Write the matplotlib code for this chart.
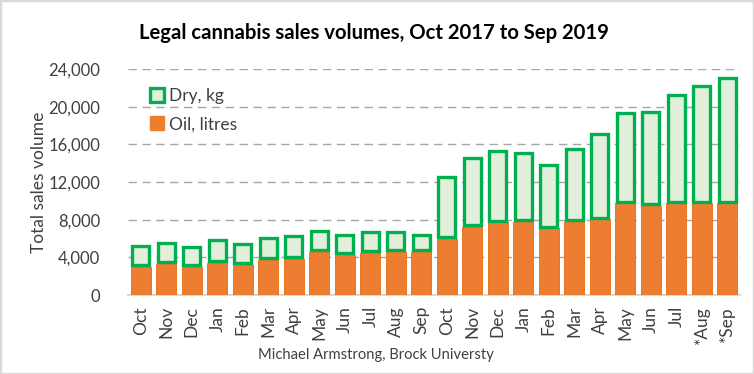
import numpy as np
import matplotlib
matplotlib.use("Agg")
import matplotlib.pyplot as plt
from matplotlib.patches import Patch, Rectangle

months = ["Oct", "Nov", "Dec", "Jan", "Feb", "Mar", "Apr", "May", "Jun", "Jul", "Aug", "Sep",
          "Oct", "Nov", "Dec", "Jan", "Feb", "Mar", "Apr", "May", "Jun", "Jul", "*Aug", "*Sep"]
oil_litres = [3000, 3290, 3000, 3430, 3180, 3720, 3820, 4600, 4250, 4490, 4600, 4600,
              6000, 7250, 7710, 7780, 7070, 7780, 8030, 9730, 9450, 9730, 9730, 9730]
dry_kg = [2410, 2440, 2310, 2590, 2370, 2540, 2660, 2410, 2330, 2340, 2230, 1950,
          6660, 7430, 7750, 7480, 6910, 7870, 9200, 9800, 10190, 11680, 12600, 13490]
yticks = [0, 4000, 8000, 12000, 16000, 20000, 24000]

plt.rcParams['font.family'] = ['Lato', 'DejaVu Sans']

orange = "#ED7D31"
green = "#00B050"
light_green = "#E2EFDA"
txt = "#404040"

fig = plt.figure(figsize=(7.54, 3.74), dpi=100)
ax = fig.add_axes([128 / 754, 79 / 374, 612 / 754, 226 / 374])

x = np.arange(len(months))
oil = np.array(oil_litres)
dry = np.array(dry_kg)

# green outline sits inside the bar, so shrink it by half the line width
lw = 2.4
px_x = 24 / 612
px_y = 24000 / 226
half_x = lw / 72 * 100 / 2 * px_x
half_y = lw / 72 * 100 / 2 * px_y

ax.bar(x, oil, width=0.8, color=orange, edgecolor="#E46C0A", linewidth=0.6, zorder=3)
ax.bar(x, dry - 2 * half_y, bottom=oil + half_y, width=0.8 - 2 * half_x,
       color=light_green, edgecolor=green, linewidth=lw, zorder=3)

ax.set_xlim(-0.5, len(months) - 0.5)
ax.set_ylim(0, 24000)
ax.set_yticks(yticks)
ax.set_yticklabels([f"{v:,}" for v in yticks])
ax.set_xticks(x)
ax.set_xticklabels(months, rotation=90)
ax.tick_params(axis="both", length=0, colors=txt, labelsize=12)
ax.tick_params(axis="x", labelsize=12.5)
ax.tick_params(axis="y", pad=20)
ax.tick_params(axis="x", pad=8)

ax.yaxis.grid(True, color="#A6A6A6", linestyle=(0, (6, 4)), linewidth=1.0, zorder=0)
for s in ["top", "right", "left"]:
    ax.spines[s].set_visible(False)
ax.spines["bottom"].set_color("#D9D9D9")
ax.spines["bottom"].set_linewidth(1.5)

ax.set_ylabel("Total sales volume", fontsize=12.5, color=txt, labelpad=1)

handles = [Patch(facecolor=light_green, edgecolor=green, linewidth=2.4, label="Dry, kg"),
           Patch(facecolor=orange, edgecolor=orange, label="Oil, litres")]
ax.legend(handles=handles, loc="upper left", bbox_to_anchor=(0.01, 0.985), frameon=False,
          fontsize=12.5, handlelength=0.8, handleheight=0.8, handletextpad=0.3,
          labelspacing=0.7, labelcolor=txt)

fig.text(0.496, 0.912, "Legal cannabis sales volumes, Oct 2017 to Sep 2019",
         ha="center", va="center", fontsize=14.6, fontweight="bold", color="black")
fig.text(0.499, 0.05, "Michael Armstrong, Brock Universty", ha="center", va="center",
         fontsize=10.6, color=txt)

fig.patches.append(Rectangle((0, 0), 1, 1, transform=fig.transFigure, fill=False,
                             edgecolor="#D9D9D9", linewidth=2.5))

fig.savefig("out.png", dpi=100)
